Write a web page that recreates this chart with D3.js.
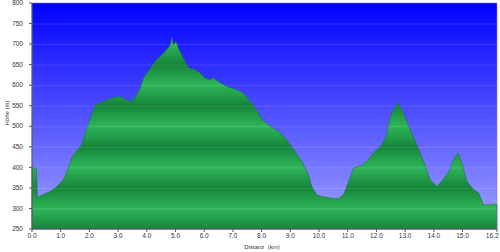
<!DOCTYPE html>
<html>
<head>
<meta charset="utf-8">
<script src="https://cdn.jsdelivr.net/npm/d3@7"></script>
<style>
    body { margin: 0; background: #fff; }
    svg text { font-family: 'Liberation Sans', Arial, sans-serif; fill: #333; }
</style>
</head>
<body>
<div id="chart"></div>
<script>
// distance along the track (km) and elevation (m)
var distances = [0.0, 0.15, 0.19, 0.4, 0.63, 0.85, 1.09, 1.25, 1.38, 1.55, 1.73, 1.96, 2.2, 2.37, 2.6, 2.78,
    3.07, 3.24, 3.47, 3.65, 3.77, 3.88, 4.17, 4.34, 4.58, 4.82, 4.87, 4.92, 5.02, 5.1, 5.27, 5.45, 5.68,
    5.85, 6.03, 6.2, 6.32, 6.49, 6.78, 7.13, 7.36, 7.6, 7.83, 8.0, 8.24, 8.4, 8.64, 8.88, 9.16, 9.4, 9.63,
    9.74, 9.92, 10.09, 10.44, 10.68, 10.85, 11.03, 11.2, 11.49, 11.67, 11.9, 12.19, 12.36, 12.42, 12.53,
    12.75, 12.94, 13.12, 13.41, 13.64, 13.87, 14.1, 14.28, 14.56, 14.68, 14.85, 15.03, 15.15, 15.38,
    15.56, 15.73, 15.97, 16.2];
var elevations = [398, 398, 327, 334, 341, 352, 370, 395, 423, 440, 455, 504, 552, 556, 563, 569,
    573, 565, 560, 577, 593, 617, 646, 662, 678, 697, 717, 698, 706, 690, 666, 642, 638,
    630, 617, 613, 617, 609, 597, 589, 581, 560, 540, 517, 504, 495, 484, 467, 439, 415, 382,
    354, 333, 329, 325, 324, 333, 366, 398, 405, 415, 435, 455, 479, 504, 532,
    558, 532, 500, 455, 415, 370, 354, 366, 394, 419, 435, 398, 366, 346,
    338, 309, 309, 311];

var xTickValues = [0, 1, 2, 3, 4, 5, 6, 7, 8, 9, 10, 11, 12, 13, 14, 15, 16.2];
var yTickValues = [250, 300, 350, 400, 450, 500, 550, 600, 650, 700, 750, 800];

var width = 500, height = 252;
var margin = {left: 32, right: 3, top: 3, bottom: 23};
var plotW = width - margin.left - margin.right;
var plotH = height - margin.top - margin.bottom;

var x = d3.scaleLinear().domain([0, 16.2]).range([0, plotW]);
var y = d3.scaleLinear().domain([250, 800]).range([plotH, 0]);

var svg = d3.select('#chart').append('svg')
    .attr('width', width)
    .attr('height', height);

var defs = svg.append('defs');

var sky = defs.append('linearGradient')
    .attr('id', 'sky')
    .attr('x1', 0).attr('y1', 0).attr('x2', 0).attr('y2', 1);
sky.append('stop').attr('offset', '0%').attr('stop-color', '#0000ff');
sky.append('stop').attr('offset', '100%').attr('stop-color', '#a2a4ff');

// banded green, one band every 100 m
var ground = defs.append('linearGradient')
    .attr('id', 'ground')
    .attr('gradientUnits', 'userSpaceOnUse')
    .attr('x1', 0).attr('x2', 0)
    .attr('y1', y(400)).attr('y2', y(300))
    .attr('spreadMethod', 'repeat');
ground.append('stop').attr('offset', '0%').attr('stop-color', '#2fb558');
ground.append('stop').attr('offset', '50%').attr('stop-color', '#15853a');
ground.append('stop').attr('offset', '100%').attr('stop-color', '#2fb558');

var g = svg.append('g')
    .attr('transform', 'translate(' + margin.left + ',' + margin.top + ')');

g.append('rect')
    .attr('width', plotW)
    .attr('height', plotH)
    .attr('fill', 'url(#sky)');

var area = d3.area()
    .x(function (d, i) { return x(distances[i]); })
    .y0(plotH)
    .y1(function (d) { return y(d); });

g.append('path')
    .datum(elevations)
    .attr('d', area)
    .attr('fill', 'url(#ground)')
    .attr('stroke', '#127a32')
    .attr('stroke-width', 0.6);

// faint grid lines
g.append('g')
    .selectAll('line')
    .data(yTickValues.slice(1, -1))
    .enter()
    .append('line')
    .attr('x1', 0)
    .attr('x2', plotW)
    .attr('y1', function (d) { return y(d) + 0.5; })
    .attr('y2', function (d) { return y(d) + 0.5; })
    .attr('stroke', '#ffffff')
    .attr('stroke-opacity', 0.12);

g.append('rect')
    .attr('width', plotW)
    .attr('height', plotH)
    .attr('fill', 'none')
    .attr('stroke', '#7a7ad8')
    .attr('stroke-width', 0.6);

// axes
var xAxis = g.append('g')
    .attr('transform', 'translate(0,' + plotH + ')');
xAxis.append('line')
    .attr('x1', 0).attr('x2', plotW)
    .attr('stroke', '#555');
xAxis.selectAll('.tick')
    .data(xTickValues)
    .enter()
    .append('line')
    .attr('x1', function (d) { return x(d); })
    .attr('x2', function (d) { return x(d); })
    .attr('y1', 0).attr('y2', 3)
    .attr('stroke', '#555');
xAxis.selectAll('text')
    .data(xTickValues)
    .enter()
    .append('text')
    .attr('x', function (d, i) { return i === xTickValues.length - 1 ? x(d) + 1.5 : x(d); })
    .attr('y', 8.5)
    .attr('text-anchor', function (d, i) { return i === xTickValues.length - 1 ? 'end' : 'middle'; })
    .style('font-size', '6.5px')
    .text(function (d) { return d.toFixed(1); });

var yAxis = g.append('g');
yAxis.append('line')
    .attr('y1', 0).attr('y2', plotH)
    .attr('stroke', '#555');
yAxis.selectAll('.tick')
    .data(yTickValues)
    .enter()
    .append('line')
    .attr('x1', -3).attr('x2', 0)
    .attr('y1', function (d) { return y(d); })
    .attr('y2', function (d) { return y(d); })
    .attr('stroke', '#555');
yAxis.selectAll('text')
    .data(yTickValues)
    .enter()
    .append('text')
    .attr('x', -9)
    .attr('y', function (d) { return y(d) + 2.2; })
    .attr('text-anchor', 'end')
    .style('font-size', '6.5px')
    .text(function (d) { return d; });

svg.append('text')
    .attr('x', 262)
    .attr('y', 248.5)
    .attr('text-anchor', 'middle')
    .style('font-size', '6px')
    .style('white-space', 'pre')
    .text('Distanz  (km)');

svg.append('text')
    .attr('transform', 'translate(9,113) rotate(-90)')
    .attr('text-anchor', 'middle')
    .style('font-size', '6px')
    .text('Höhe (m)');
</script>
</body>
</html>
